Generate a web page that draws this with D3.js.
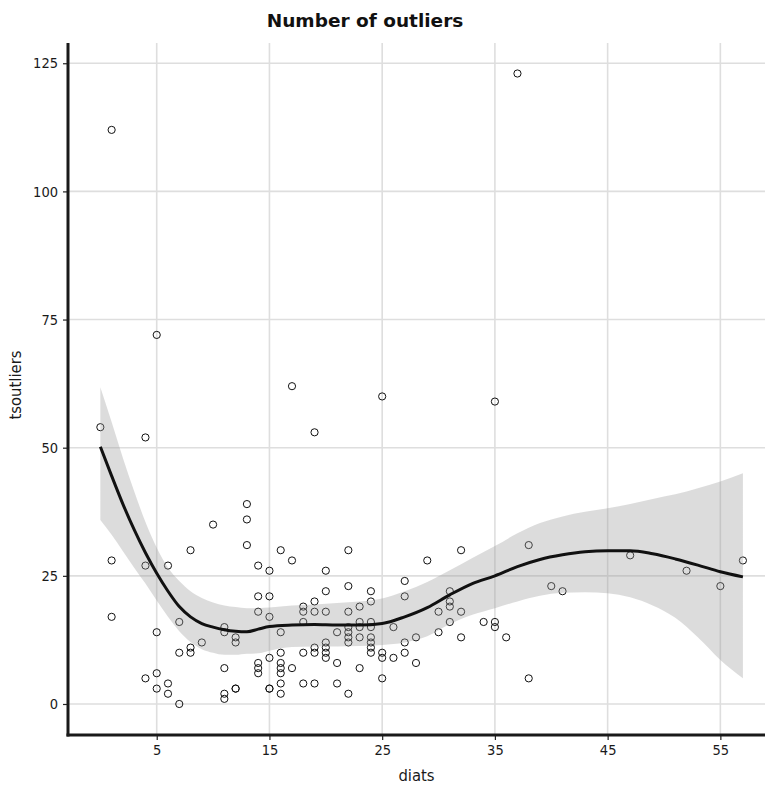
<!DOCTYPE html>
<html>
<head>
<meta charset="utf-8">
<script src="https://cdn.jsdelivr.net/npm/d3@7"></script>
<style>
  html, body { margin: 0; padding: 0; background: #fff; }
  svg { display: block; }
  text { font-family: "DejaVu Sans Condensed", "DejaVu Sans", sans-serif; font-stretch: condensed; }
</style>
</head>
<body>
<svg id="chart" width="765" height="785"></svg>
<script>
// ---- data ----
const diats = [0,1,1,1,4,4,4,5,5,5,5,6,6,6,7,7,7,8,8,8,9,10,11,11,11,11,11,12,12,12,12,13,13,13,14,14,14,14,14,14,15,15,15,15,15,15,16,16,16,16,16,16,16,16,17,17,17,18,18,18,18,18,19,19,19,19,19,19,20,20,20,20,20,20,20,21,21,21,22,22,22,22,22,22,22,22,23,23,23,23,23,24,24,24,24,24,24,24,24,25,25,25,25,26,26,27,27,27,27,28,28,29,30,30,31,31,31,31,32,32,32,34,35,35,35,36,37,38,38,40,41,47,52,55,57];
const tsoutliers = [54,112,28,17,52,27,5,72,14,6,3,27,4,2,16,10,0,30,11,10,12,35,15,14,7,2,1,13,12,3,3,39,36,31,27,21,18,8,7,6,26,21,17,9,3,3,30,14,10,8,7,6,4,2,62,28,7,19,18,16,10,4,53,20,18,11,10,4,26,22,18,12,11,10,9,14,8,4,30,23,18,15,14,13,12,2,19,16,15,13,7,22,20,16,15,13,12,11,10,60,10,9,5,15,9,24,21,12,10,13,8,28,18,14,22,20,19,16,30,18,13,16,59,16,15,13,123,31,5,23,22,29,26,23,28];

// smoother (fit and confidence band)
const fitX  = [0,1,2,3,4,5,6,7,8,9,10,11,12,13,14,15,17,19,21,23,25,27,29,31,33,35,37,39,41,43,45,47,49,51,53,55,57];
const fitY  = [50.2,44.5,39,34,29.5,25.5,22,19,17,15.7,15,14.5,14.2,14.1,14.6,15.1,15.4,15.5,15.4,15.4,15.7,17,18.8,21.3,23.5,25,26.8,28.2,29.1,29.7,29.9,29.9,29.3,28.3,27.1,25.8,24.8];
const fitLo = [35.9,33,29.8,26.6,23.5,20.2,17,14.2,12.1,10.7,10,9.6,9.6,9.8,9.9,10.4,11.1,11.2,11.2,11.3,11.5,12,13.2,15.6,17.4,18.7,20,21.1,21.7,21.8,21.6,20.8,19.2,16.8,13,8.6,5];
const fitHi = [61.8,55,48,41.5,35.5,30.5,26.6,24,22,20.7,19.8,19.2,18.9,18.7,18.7,18.8,19.2,19.4,19.7,20,20.6,22,23.8,26.1,28.5,30.8,33.3,35.3,36.6,37.5,38.2,39,40,40.9,42.1,43.4,45];

const xTicks = [5,15,25,35,45,55];
const yTicks = [0,25,50,75,100,125];

const titleText = "Number of outliers";
const xLabel = "diats";
const yLabel = "tsoutliers";

// ---- layout ----
const svg = d3.select("#chart");
const pL = 68, pR = 765, pT = 43, pB = 735;

const x = d3.scaleLinear().domain([-2.87, 58.96]).range([pL, pR]);
const y = d3.scaleLinear().domain([-6.05, 128.95]).range([pB, pT]);

// grid
const grid = svg.append("g");
grid.selectAll("line.vg").data(xTicks).join("line")
  .attr("x1", d => x(d)).attr("x2", d => x(d))
  .attr("y1", pT).attr("y2", pB)
  .attr("stroke", "#dedede").attr("stroke-width", 1.6);
grid.selectAll("line.hg").data(yTicks).join("line")
  .attr("y1", d => y(d)).attr("y2", d => y(d))
  .attr("x1", pL).attr("x2", pR)
  .attr("stroke", "#dedede").attr("stroke-width", 1.6);

// points
const pts = diats.map((d, i) => ({x: d, y: tsoutliers[i]}));
svg.append("g").selectAll("circle").data(pts).join("circle")
  .attr("cx", d => x(d.x)).attr("cy", d => y(d.y))
  .attr("r", 3.6)
  .attr("fill", "none")
  .attr("stroke", "#111")
  .attr("stroke-width", 1);

// band
const fit = fitX.map((d, i) => ({x: d, y: fitY[i], lo: fitLo[i], hi: fitHi[i]}));
const area = d3.area()
  .x(d => x(d.x)).y0(d => y(d.lo)).y1(d => y(d.hi))
  .curve(d3.curveMonotoneX);
svg.append("path").datum(fit)
  .attr("d", area)
  .attr("fill", "#9a9a9a")
  .attr("fill-opacity", 0.35);

const line = d3.line().x(d => x(d.x)).y(d => y(d.y)).curve(d3.curveMonotoneX);
svg.append("path").datum(fit)
  .attr("d", line)
  .attr("fill", "none")
  .attr("stroke", "#111")
  .attr("stroke-width", 3);

// axes
const xAxis = d3.axisBottom(x).tickValues(xTicks).tickSize(5).tickPadding(5).tickSizeOuter(0);
const yAxis = d3.axisLeft(y).tickValues(yTicks).tickSize(5).tickPadding(5).tickSizeOuter(0);

const gx = svg.append("g").attr("transform", `translate(0,${pB})`).call(xAxis);
const gy = svg.append("g").attr("transform", `translate(${pL},0)`).call(yAxis);
[gx, gy].forEach(g => {
  g.select(".domain").remove();
  g.selectAll(".tick line").attr("stroke", "#222").attr("stroke-width", 1.2);
  g.selectAll(".tick text").attr("fill", "#1a1a1a").style("font-size", "14.5px")
    .style("font-family", '"DejaVu Sans Condensed", "DejaVu Sans", sans-serif');
});

// spines
svg.append("line").attr("x1", pL).attr("x2", pL).attr("y1", pT).attr("y2", pB + 1.5)
  .attr("stroke", "#1a1a1a").attr("stroke-width", 3);
svg.append("line").attr("x1", pL - 1.5).attr("x2", pR).attr("y1", pB).attr("y2", pB)
  .attr("stroke", "#1a1a1a").attr("stroke-width", 3);

// labels
svg.append("text").attr("x", 365).attr("y", 27)
  .attr("text-anchor", "middle")
  .style("font-family", '"DejaVu Sans", sans-serif').style("font-stretch", "normal")
  .style("font-size", "18.5px").style("font-weight", "bold")
  .attr("fill", "#111").text(titleText);
svg.append("text").attr("x", (pL + pR) / 2).attr("y", 781)
  .attr("text-anchor", "middle").style("font-size", "16.5px").attr("fill", "#1a1a1a").text(xLabel);
svg.append("text").attr("transform", `translate(21,${(pT + pB) / 2 - 4}) rotate(-90)`)
  .attr("text-anchor", "middle").style("font-size", "16.5px").attr("fill", "#1a1a1a").text(yLabel);
</script>
</body>
</html>
